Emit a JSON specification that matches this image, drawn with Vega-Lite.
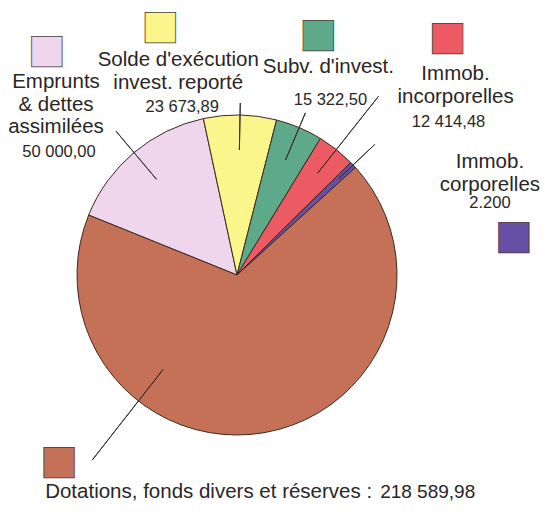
{
  "$schema": "https://vega.github.io/schema/vega-lite/v6.json",
  "width": 474,
  "height": 478,
  "autosize": {"type": "none"},
  "padding": {"left": 0, "top": 36, "right": 71, "bottom": 0},
  "background": "white",
  "config": {"view": {"stroke": null}},
  "data": {
    "values": [
      {"cat": "Emprunts", "k": 1, "value": 50000, "name": ["Emprunts", "& dettes", "assimilées"], "num": "50 000,00"},
      {"cat": "Solde", "k": 2, "value": 23673.89, "name": ["Solde d'exécution", "invest. reporté"], "num": "23 673,89"},
      {"cat": "Subv", "k": 3, "value": 15322.5, "name": ["Subv. d'invest."], "num": "15 322,50"},
      {"cat": "Incorp", "k": 4, "value": 12414.48, "name": ["Immob.", "incorporelles"], "num": "12 414,48"},
      {"cat": "Corp", "k": 5, "value": 2200, "name": ["Immob.", "corporelles"], "num": "2.200"},
      {"cat": "Dot", "k": 6, "value": 218589.98, "name": ["Dotations, fonds divers et réserves :"], "num": "218 589,98"}
    ]
  },
  "encoding": {
    "theta": {"field": "value", "type": "quantitative", "stack": true, "scale": {"range": [-1.18682, 5.09636]}},
    "order": {"field": "k", "type": "quantitative"}
  },
  "layer": [
    {
      "mark": {"type": "arc", "outerRadius": 160, "stroke": "#3b2a22", "strokeWidth": 1},
      "encoding": {
        "color": {"field": "cat", "type": "nominal", "legend": null,
          "scale": {"domain": ["Emprunts", "Solde", "Subv", "Incorp", "Corp", "Dot"],
                    "range": ["#efd6ec", "#fbf68c", "#5ea98a", "#ec5b63", "#6650a6", "#c57158"]}}
      }
    },
    {
      "transform": [{"filter": "datum.k < 6"}],
      "mark": {"type": "arc", "filled": false, "stroke": "#3a302c", "strokeWidth": 1, "padAngle": 3.14159,
        "innerRadius": {"expr": "[125,125,125,130,140][datum.k-1]"},
        "outerRadius": {"expr": "[188,172,176,228,190][datum.k-1]"}}
    },
    {
      "transform": [{"filter": "datum.k == 6"}],
      "mark": {"type": "arc", "filled": false, "stroke": "#3a302c", "strokeWidth": 1, "innerRadius": 120, "outerRadius": 235},
      "encoding": {
        "theta": {"datum": 256000, "type": "quantitative"},
        "theta2": {"datum": 256000}
      }
    },
    {
      "mark": {"type": "text", "font": "Liberation Sans", "fontSize": 20.5, "lineHeight": 22.5,
        "color": "#2a2626", "baseline": "alphabetic",
        "align": {"expr": "datum.k == 6 ? 'left' : 'center'"},
        "radius": {"expr": "[188,172,176,228,190,200][datum.k-1]"},
        "dx": {"expr": "[-60,-62,23,77,115,-227][datum.k-1]"},
        "dy": {"expr": "[-43,-37,-40,-16,24,26][datum.k-1]"}},
      "encoding": {"text": {"field": "name", "type": "nominal"}}
    },
    {
      "mark": {"type": "text", "font": "Liberation Sans", "color": "#2a2626", "baseline": "alphabetic",
        "fontSize": {"expr": "datum.k == 6 ? 19 : 16.5"},
        "align": {"expr": "datum.k == 6 ? 'left' : 'center'"},
        "radius": {"expr": "[188,172,176,228,190,200][datum.k-1]"},
        "dx": {"expr": "[-57,-58,25,70,115,108][datum.k-1]"},
        "dy": {"expr": "[26,9,-8,31,64,26][datum.k-1]"}},
      "encoding": {"text": {"field": "num", "type": "nominal"}}
    },
    {
      "mark": {"type": "text", "font": "DejaVu Sans", "fontSize": 40, "baseline": "middle", "align": "center",
        "stroke": "#4a3c38", "strokeWidth": 0.8,
        "radius": {"expr": "[188,172,176,228,190,200][datum.k-1]"},
        "dx": {"expr": "[-69,-80,13,69,139,-213][datum.k-1]"},
        "dy": {"expr": "[-81,-77,-79,-59,92,-11][datum.k-1]"}},
      "encoding": {
        "text": {"value": "■"},
        "color": {"field": "cat", "type": "nominal", "legend": null}
      }
    }
  ]
}
